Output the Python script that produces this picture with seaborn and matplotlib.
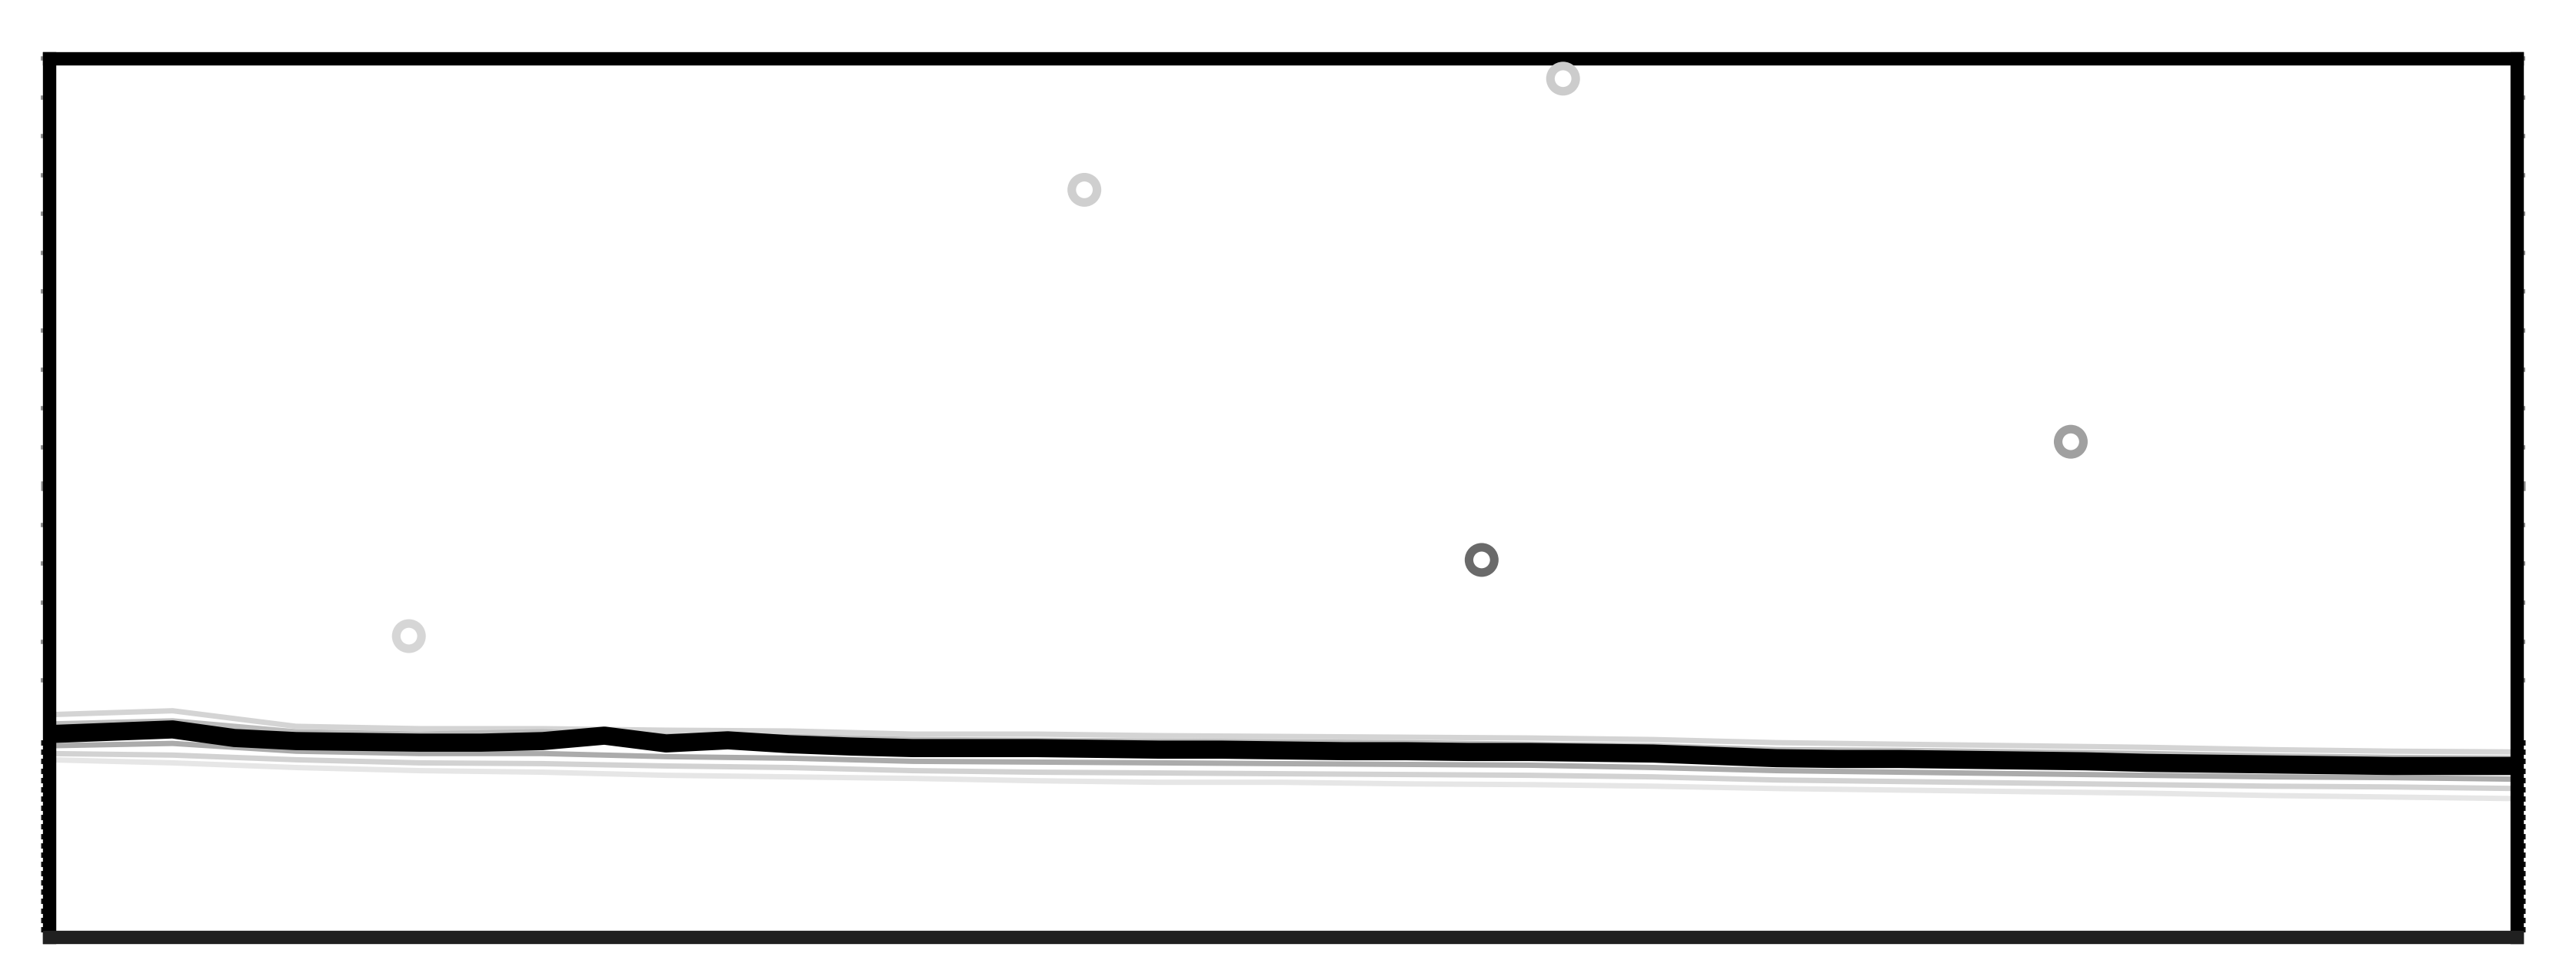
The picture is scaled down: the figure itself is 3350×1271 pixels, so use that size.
import numpy as np
import pandas as pd
import matplotlib
matplotlib.use("Agg")
import matplotlib.pyplot as plt
import seaborn as sns

# ---------------- data ----------------
x_main = list(range(41))
main_series = [231, 234, 237, 226, 222, 221, 220, 220, 222, 229, 219, 223, 218, 215,
               213, 213, 213, 212, 211, 211, 210, 209, 209, 208, 208, 207, 206, 203,
               200, 199, 199, 198, 197, 196, 194, 193, 192, 191, 190, 190, 190]

x_band = list(range(0, 41, 2))
band_upper_1 = [256, 261, 241, 238, 238, 236, 235, 231, 231, 229, 228, 227, 226, 224,
                220, 218, 216, 214, 211, 209, 208]
band_upper_2 = [244, 248, 234, 231, 234, 229, 228, 224, 223, 222, 221, 220, 218, 216,
                211, 210, 208, 206, 203, 201, 200]
band_lower_1 = [216, 219, 209, 206, 206, 202, 200, 196, 195, 194, 193, 192, 191, 188,
                184, 182, 180, 178, 176, 175, 173]
band_lower_2 = [206, 204, 198, 194, 193, 190, 188, 184, 182, 181, 180, 179, 178, 176,
                172, 170, 168, 166, 164, 163, 161]
band_lower_3 = [198, 194, 188, 184, 182, 178, 176, 174, 171, 169, 169, 167, 166, 164,
                161, 159, 157, 155, 152, 150, 148]

outlier_x = [5.83, 16.78, 24.54, 23.22, 32.77]
outlier_y = [357, 931, 1074, 455, 607]
outlier_shade = ["#d6d6d6", "#cfcfcf", "#cccccc", "#6a6a6a", "#a0a0a0"]

# ---------------- figure ----------------
sns.set_theme(style="white")
plt.rcParams['font.family'] = ['DejaVu Sans']

W, H, DPI = 3350, 1271, 100
fig = plt.figure(figsize=(W / DPI, H / DPI), dpi=DPI)
fig.patch.set_facecolor("white")
ax = fig.add_axes([64 / W, 1 - 1219 / H, (3273 - 64) / W, (1219 - 76) / H])
ax.set_facecolor("white")

for vals, col, lw in [(band_lower_3, "#e6e6e6", 5),
                      (band_lower_2, "#d2d2d2", 5),
                      (band_upper_1, "#d4d4d4", 5),
                      (band_lower_1, "#ababab", 5),
                      (band_upper_2, "#bdbdbd", 5)]:
    sns.lineplot(x=x_band, y=vals, ax=ax, color=col, lw=lw, estimator=None)

sns.lineplot(x=x_main, y=main_series, ax=ax, color="black", lw=17, estimator=None,
             solid_capstyle="butt", solid_joinstyle="round")

for xv, yv, c in zip(outlier_x, outlier_y, outlier_shade):
    sns.scatterplot(x=[xv], y=[yv], ax=ax, s=560, marker="o",
                    facecolor="none", edgecolor=c, linewidth=8, zorder=5)

ax.set_xlim(0, 40)
ax.set_ylim(-30, 1100)

for side in ["left", "right", "top", "bottom"]:
    ax.spines[side].set_visible(True)
    ax.spines[side].set_linewidth(12.5)
    ax.spines[side].set_color("black")
ax.spines["bottom"].set_color("#202020")

# y ticks: regular gray ticks in upper region, dense dark ticks low
upper_ticks = [t for t in range(300, 1101, 50) if t != 550]
low_ticks = list(range(-20, 231, 12))
ax.set_yticks(upper_ticks + [550])
ax.set_yticks(low_ticks, minor=True)
ax.set_yticklabels([])
ax.tick_params(axis="y", which="major", left=True, right=True, direction="out",
               length=8, width=4, color="#8f8f8f", labelleft=False, labelright=False)
ax.tick_params(axis="y", which="minor", left=True, right=True, direction="out",
               length=8, width=5, color="#111111")
for t in ax.yaxis.get_major_ticks():
    if abs(t.get_loc() - 550) < 1e-6:
        t.tick1line.set_color("black")
        t.tick2line.set_color("black")
        t.tick1line.set_markeredgewidth(9)
        t.tick2line.set_markeredgewidth(9)

# top-right gray dashes
top_ticks = list(np.arange(31.9, 40.01, 0.35))
ax.set_xticks(top_ticks)
ax.set_xticklabels([])
ax.tick_params(axis="x", which="major", top=True, bottom=False, direction="out",
               length=4, width=12, color="#8c8c8c", labeltop=False, labelbottom=False)
ax.grid(False)
ax.set_xlabel("")
ax.set_ylabel("")

fig.savefig("out.png", dpi=DPI, facecolor="white")
